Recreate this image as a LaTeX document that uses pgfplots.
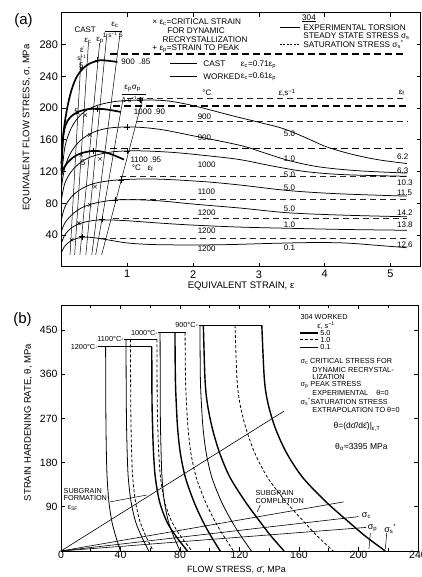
\documentclass[border=0pt]{standalone}
\usepackage{fontspec}
\setmainfont{Liberation Sans}
\usepackage{pgfplots}
\pgfplotsset{compat=1.18}
\newcommand{\fs}[1]{\fontsize{#1}{#1}\selectfont}
\begin{document}
\begin{tikzpicture}
\useasboundingbox (0pt,0pt) rectangle (422pt,577pt);
\fill[white] (0pt,0pt) rectangle (422pt,577pt);
\pgfplotsset{
 cast/.style={black, line width=1.7pt, smooth, tension=0.55, mark=none},
 work/.style={black, line width=0.75pt, smooth, tension=0.55, mark=none},
 satk/.style={black, line width=1.5pt, dash pattern=on 7pt off 4pt, mark=none},
 satn/.style={black!85, line width=0.6pt, dash pattern=on 6pt off 4pt, mark=none},
 thn/.style={black, line width=0.5pt, mark=none},
 rk5/.style={black, line width=1.4pt, smooth, tension=0.5, mark=none},
 rk1/.style={black, line width=0.8pt, dash pattern=on 3pt off 2pt, smooth, tension=0.5, mark=none},
 rk01/.style={black, line width=0.8pt, smooth, tension=0.5, mark=none},
}
\tikzset{
 lbl/.style={font=\fs{8}, inner sep=0.5pt},
 leg/.style={font=\fs{8.2}, inner sep=0.3pt, anchor=west},
 legb/.style={font=\fs{7.3}, inner sep=0.3pt, anchor=west},
}
% ---------------- panel (a)
\begin{axis}[at={(61.5pt,310.2pt)}, anchor=south west, scale only axis,
 width=359pt, height=254.1pt, xmin=0, xmax=5.456, ymin=0, ymax=320, clip=false,
 axis line style={line width=1pt}, tick align=inside,
 xtick={1,2,3,4,5}, ytick={40,80,...,280}, major tick length=4pt,
 every tick/.style={black, line width=0.8pt},
 tick label style={font=\fs{11}}, /pgf/number format/assume math mode=true]
% saturation lines
\addplot[satk] coordinates {(0.74,268) (5.25,268)};
\addplot[satk] coordinates {(0.79,202.5) (5.25,202.5)};
\addplot[satk] coordinates {(0.74,149) (5.25,149)};
\addplot[satn] coordinates {(1.0,212.7) (5.25,212.7)};
\addplot[satn] coordinates {(1.14,182.8) (5.25,182.8)};
\addplot[satn] coordinates {(0.89,113.8) (5.25,113.8)};
\addplot[satn] coordinates {(0.89,84.5) (5.25,84.5)};
\addplot[satn] coordinates {(0.79,61.4) (5.25,61.4)};
\addplot[satn] coordinates {(0.58,36.5) (5.25,36.5)};
% cast curves
\addplot[cast] coordinates {(0,130) (0.03,168) (0.08,197) (0.15,222) (0.23,239) (0.33,250) (0.43,256) (0.58,260) (0.7,259.5) (0.85,258)};
\addplot[cast] coordinates {(0,120) (0.02,160) (0.06,178) (0.13,188) (0.25,195) (0.4,198.5) (0.55,199) (0.7,198) (0.9,195)};
\addplot[cast] coordinates {(0,116) (0.02,122) (0.08,130) (0.18,138) (0.3,143) (0.48,146) (0.62,145) (0.78,141) (0.95,135)};
% worked curves
\addplot[work] coordinates {(0,110) (0.05,150) (0.15,175) (0.3,192) (0.5,202) (0.8,208) (1.2,210) (1.6,209) (2.0,203) (2.56,191) (3.0,182) (3.37,174) (3.7,163) (4.03,151) (4.4,142) (4.8,135) (5.25,130)};
\addplot[work] coordinates {(0,100) (0.05,125) (0.15,145) (0.3,160) (0.5,170) (0.75,175) (1.1,176) (1.5,173) (2.0,165) (2.71,153) (3.1,143) (3.45,134) (3.9,126) (4.5,121) (5.25,118)};
\addplot[work] coordinates {(0,85) (0.05,105) (0.15,120) (0.3,132) (0.5,140) (0.8,145) (1.2,146) (1.7,144) (2.2,140) (2.71,135) (3.2,127) (3.7,120) (4.3,116) (5.25,114)};
\addplot[work] coordinates {(0,60) (0.05,75) (0.15,88) (0.3,98) (0.5,105) (0.8,109) (1.2,110.5) (1.6,110) (2.2,107) (2.71,103) (3.45,96) (4.2,92) (5.25,89)};
\addplot[work] coordinates {(0,45) (0.05,55) (0.15,65) (0.3,74) (0.5,80) (0.8,84) (1.1,84.5) (1.5,83) (2.0,79) (2.71,74) (3.45,68) (4.3,65) (5.25,63)};
\addplot[work] coordinates {(0,30) (0.05,40) (0.15,49) (0.3,55) (0.5,58.5) (0.7,59) (1.0,58) (1.5,55) (2.0,52.5) (2.71,50) (3.45,48.5) (4.3,47) (5.25,46)};
\addplot[work] coordinates {(0,18) (0.05,26) (0.15,33) (0.3,37) (0.45,37) (0.7,34) (1.0,30) (1.4,28) (2.0,27.5) (2.56,28) (3.2,29.5) (3.8,30.5) (4.3,30) (4.8,27) (5.25,24)};
% slanted strain lines
\addplot[thn] coordinates {(0.13,15) (0.30,268)};
\addplot[thn] coordinates {(0.20,15) (0.41,282)};
\addplot[thn] coordinates {(0.28,15) (0.58,282)};
\addplot[thn] coordinates {(0.37,15) (0.69,294)};
\addplot[thn] coordinates {(0.46,15) (0.89,294)};
\addplot[thn] coordinates {(0.52,15) (0.94,214)};
\addplot[thn] coordinates {(0.61,15) (1.24,214)};
\addplot[thn] coordinates {(0.66,297) (0.92,297)};
\addplot[thn] coordinates {(0.92,217) (1.28,217)};
% critical and peak marks
\addplot[only marks, mark=x, mark size=2.5pt, thin] coordinates {(0.155,34) (0.26,55) (0.43,78) (0.51,101) (0.585,136) (0.43,166) (0.36,191) (0.3,250) (0.25,194) (0.3,141)};
\addplot[only marks, mark=+, mark size=3pt, thin] coordinates {(0.31,38) (0.62,60) (0.81,84) (0.9,109) (1.0,146) (1.0,176) (1.2,210) (0.55,199) (0.55,260) (0.48,146)};
% legend texts
\node[leg] at (axis cs:1.375,308) {× ε\textsubscript{c}=CRITICAL STRAIN};
\node[leg] at (axis cs:1.6,297) {FOR DYNAMIC};
\node[leg] at (axis cs:1.53,286) {RECRYSTALLIZATION};
\node[leg] at (axis cs:1.375,275) {+ ε\textsubscript{p}=STRAIN TO PEAK};
\node[leg] at (axis cs:3.65,313) {\underline{304}};
\addplot[thn, line width=0.7pt] coordinates {(3.32,301) (3.62,301)};
\node[leg] at (axis cs:3.67,301) {EXPERIMENTAL TORSION};
\node[leg] at (axis cs:3.67,290.5) {STEADY STATE STRESS σ\textsubscript{s}};
\addplot[thn, line width=0.7pt, dash pattern=on 2pt off 1.5pt] coordinates {(3.32,280) (3.62,280)};
\node[leg] at (axis cs:3.67,280) {SATURATION STRESS σ\textsubscript{s}\textsuperscript{*}};
\addplot[black, line width=1.7pt, mark=none] coordinates {(1.65,256) (2.06,256)};
\node[leg] at (axis cs:2.15,256) {CAST};
\node[leg] at (axis cs:2.72,255) {ε\textsubscript{c}=0.71ε\textsubscript{p}};
\addplot[black, line width=0.75pt, mark=none] coordinates {(1.65,240) (2.06,240)};
\node[leg] at (axis cs:2.15,240) {WORKED};
\node[leg] at (axis cs:2.72,239) {ε\textsubscript{c}=0.61ε\textsubscript{p}};
% curve annotations
\node[lbl] at (axis cs:0.36,299) {CAST};
\node[lbl] at (axis cs:0.40,285) {ε\textsubscript{c}};
\node[lbl] at (axis cs:0.585,285) {ε\textsubscript{p}};
\node[lbl] at (axis cs:0.81,305) {ε\textsubscript{c}};
\node[lbl, font=\fs{6.5}] at (axis cs:0.78,292) {1 s\textsuperscript{−1} 5};
\node[lbl] at (axis cs:0.31,273) {\.{ε}};
\node[lbl, font=\fs{6.5}] at (axis cs:0.31,263) {s\textsuperscript{−1}};
\node[lbl] at (axis cs:0.30,253) {5};
\node[lbl] at (axis cs:1.08,225) {ε\textsubscript{p}σ\textsubscript{p}};
\node[lbl, font=\fs{6.5}] at (axis cs:1.08,211) {1 s\textsuperscript{−1} 5};
\node[lbl] at (axis cs:0.23,195) {5};
\node[lbl] at (axis cs:0.33,131) {5};
\node[lbl, anchor=west] at (axis cs:0.9,258) {900\ \ .85};
\node[lbl, anchor=west] at (axis cs:1.09,195) {1000\ .90};
\node[lbl, anchor=west] at (axis cs:1.04,135) {1100\ .95};
\node[lbl, anchor=west] at (axis cs:1.06,124) {°C\ \ \ ε\textsubscript{f}};
\node[lbl] at (axis cs:2.21,219) {°C};
\node[lbl] at (axis cs:3.43,219) {\.{ε},s\textsuperscript{−1}};
\node[lbl] at (axis cs:5.17,219) {ε\textsubscript{f}};
\node[lbl, anchor=west] at (axis cs:2.06,189) {900};
\node[lbl, anchor=west] at (axis cs:2.06,162) {900};
\node[lbl, anchor=west] at (axis cs:2.06,129) {1000};
\node[lbl, anchor=west] at (axis cs:2.06,95) {1100};
\node[lbl, anchor=west] at (axis cs:2.06,68) {1200};
\node[lbl, anchor=west] at (axis cs:2.06,45) {1200};
\node[lbl, anchor=west] at (axis cs:2.06,22.4) {1200};
\node[lbl, anchor=west] at (axis cs:3.37,168) {5.0};
\node[lbl, anchor=west] at (axis cs:3.37,136) {1.0};
\node[lbl, anchor=west] at (axis cs:3.37,116.5) {5.0};
\node[lbl, anchor=west] at (axis cs:3.37,99) {5.0};
\node[lbl, anchor=west] at (axis cs:3.37,73) {5.0};
\node[lbl, anchor=west] at (axis cs:3.37,53) {1.0};
\node[lbl, anchor=west] at (axis cs:3.37,23.5) {0.1};
\node[lbl, anchor=west] at (axis cs:5.09,138.5) {6.2};
\node[lbl, anchor=west] at (axis cs:5.09,120.5) {6.3};
\node[lbl, anchor=west] at (axis cs:5.09,106.3) {10.3};
\node[lbl, anchor=west] at (axis cs:5.09,93.7) {11.5};
\node[lbl, anchor=west] at (axis cs:5.09,68) {14.2};
\node[lbl, anchor=west] at (axis cs:5.09,53.5) {13.8};
\node[lbl, anchor=west] at (axis cs:5.09,28.3) {12.6};
\end{axis}
% ---------------- panel (b)
\begin{axis}[at={(61pt,26pt)}, anchor=south west, scale only axis,
 width=357pt, height=245.5pt, xmin=0, xmax=240, ymin=0, ymax=500, clip=false,
 axis line style={line width=1pt}, tick align=inside,
 xtick={0,40,...,240}, minor xtick={20,60,...,220}, ytick={90,180,...,450},
 major tick length=4pt, minor tick length=3pt,
 every tick/.style={black, line width=0.8pt},
 tick label style={font=\fs{10.5}}, xticklabel style={inner sep=1pt, yshift=1pt},
 /pgf/number format/assume math mode=true]
% caps
\addplot[thn, line width=0.8pt] coordinates {(25,416) (61,416)};
\addplot[thn, line width=0.8pt] coordinates {(42.5,431) (64.5,431)};
\addplot[thn, line width=0.8pt] coordinates {(65.5,445) (84,445)};
\addplot[thn, line width=0.8pt] coordinates {(92.5,460) (135,460)};
\node[legb, anchor=east] at (axis cs:25,416) {1200°C-};
\node[legb, anchor=east] at (axis cs:42.5,431) {1100°C-};
\node[legb, anchor=east] at (axis cs:65.5,445) {1000°C-};
\node[legb, anchor=east] at (axis cs:92.5,460) {900°C-};
% curves
\addplot[rk01] coordinates {(30,416) (30.05,350) (30.1,300) (30.25,250) (30.5,200) (31,150) (32.2,100) (34.2,60) (36.8,30) (40,0)};
\addplot[rk1] coordinates {(46.7,431) (46.8,350) (46.9,300) (47.1,250) (47.5,200) (48.2,150) (50.1,100) (53.1,60) (57.1,30) (62,0)};
\addplot[rk5] coordinates {(61,416) (61.1,350) (61.2,300) (61.6,250) (62.2,200) (63.4,150) (66.3,100) (71.1,60) (77.3,30) (85,0)};
\addplot[rk01] coordinates {(43.7,431) (43.8,350) (43.9,300) (44.1,250) (44.5,200) (45.2,150) (47.1,100) (50.1,60) (54.1,30) (59,0)};
\addplot[rk1] coordinates {(64.5,431) (64.6,350) (64.7,300) (65.1,250) (65.7,200) (66.9,150) (69.7,100) (74.4,60) (80.5,30) (88,0)};
\addplot[rk5] coordinates {(76.6,445) (76.9,350) (77.5,300) (78.4,250) (80.2,200) (83.6,150) (89.4,100) (95.4,60) (100.9,30) (107,0)};
\addplot[rk01] coordinates {(66.6,445) (66.7,350) (66.7,300) (66.9,250) (67.3,200) (67.9,150) (69.5,100) (72.2,60) (75.7,30) (80,0)};
\addplot[rk1] coordinates {(83.4,445) (83.7,350) (84.4,300) (85.4,250) (87.3,200) (90.9,150) (97.1,100) (103.6,60) (109.5,30) (116,0)};
\addplot[rk5] coordinates {(95.7,460) (96.8,350) (98.4,300) (101.7,250) (106.6,200) (113.6,150) (124,100) (133.7,60) (141.3,30) (150,0)};
\addplot[rk01] coordinates {(93.4,460) (93.7,350) (94.4,300) (95.5,250) (97.6,200) (101.4,150) (107.9,100) (114.9,60) (121.1,30) (128,0)};
\addplot[rk1] coordinates {(117,460) (118.3,350) (120.3,300) (124.3,250) (130.2,200) (138.8,150) (151.3,100) (163.2,60) (172.4,30) (183,0)};
\addplot[rk5] coordinates {(135,460) (136.7,350) (139.2,300) (144.1,250) (151.6,200) (162.4,150) (178.2,100) (193.1,60) (204.7,30) (218,0)};
% rays
\addplot[thn, line width=0.6pt] coordinates {(0,0) (150,285)};
\addplot[thn, line width=0.6pt] coordinates {(0,0) (190,100)};
\addplot[thn, line width=0.6pt] coordinates {(0,0) (200,70)};
\addplot[thn, line width=0.6pt] coordinates {(0,0) (205,48)};
\addplot[thn] coordinates {(208,37) (207,4)};
\addplot[thn] coordinates {(219,37) (218,4)};
\addplot[thn] coordinates {(33,100) (57.6,114)};
\addplot[thn] coordinates {(134,94) (132,80)};
\node[legb, anchor=west, font=\fs{9}] at (axis cs:202,72) {σ\textsubscript{c}};
\node[legb, anchor=south west, font=\fs{9}] at (axis cs:206,38) {σ\textsubscript{p}};
\node[legb, anchor=south west, font=\fs{9}] at (axis cs:217,34) {σ\textsubscript{s}\textsuperscript{*}};
\node[legb, align=left] at (axis cs:1.5,105) {SUBGRAIN\\FORMATION\\[1pt]\ \ ε\textsubscript{SF}};
\node[legb, align=left] at (axis cs:130.5,110) {SUBGRAIN\\COMPLETION};
% legend
\node[legb] at (axis cs:160.7,476.5) {304 WORKED};
\node[legb] at (axis cs:172,458) {\.{ε}, s\textsuperscript{−1}};
\addplot[black, line width=1.4pt, mark=none] coordinates {(160.7,444) (172.8,444)};
\addplot[black, line width=0.8pt, dash pattern=on 3pt off 2pt, mark=none] coordinates {(160.7,430) (172.8,430)};
\addplot[black, line width=0.6pt, mark=none] coordinates {(160.7,415.5) (172.8,415.5)};
\node[legb] at (axis cs:174,444) {5.0};
\node[legb] at (axis cs:174,430) {1.0};
\node[legb] at (axis cs:174,415.5) {0.1};
\node[legb] at (axis cs:160.7,386) {σ\textsubscript{c}\ CRITICAL STRESS FOR};
\node[legb] at (axis cs:168.7,369.5) {DYNAMIC RECRYSTAL-};
\node[legb] at (axis cs:168.7,353.5) {LIZATION};
\node[legb] at (axis cs:160.7,337.5) {σ\textsubscript{p}\ PEAK STRESS};
\node[legb] at (axis cs:168.7,321.5) {EXPERIMENTAL\ \ \ \ θ=0};
\node[legb] at (axis cs:160.7,304) {σ\textsubscript{s}\textsuperscript{*}SATURATION STRESS};
\node[legb] at (axis cs:168.7,287) {EXTRAPOLATION TO θ=0};
\node[legb, font=\fs{8.5}] at (axis cs:182.9,253) {θ=(d\={σ}/d\={ε})|\textsubscript{\.{ε},T}};
\node[legb, font=\fs{8.5}] at (axis cs:184,212.4) {θ\textsubscript{σ}≈3395 MPa};
\end{axis}
% outer labels
\node[font=\fs{15}] at (23.5pt,556.5pt) {(a)};
\node[font=\fs{15}] at (22.5pt,257.5pt) {(b)};
\node[font=\fs{9.5}, rotate=90] at (27pt,449.5pt) {EQUIVALENT FLOW STRESS, σ, MPa};
\node[font=\fs{9.5}, rotate=90] at (28pt,154.5pt) {STRAIN HARDENING RATE, θ, MPa};
\node[font=\fs{9.5}] at (241pt,291pt) {EQUIVALENT STRAIN, ε};
\node[font=\fs{9}, inner sep=0.5pt] at (236.5pt,7.5pt) {FLOW STRESS, \={σ}, MPa};
\end{tikzpicture}
\end{document}
